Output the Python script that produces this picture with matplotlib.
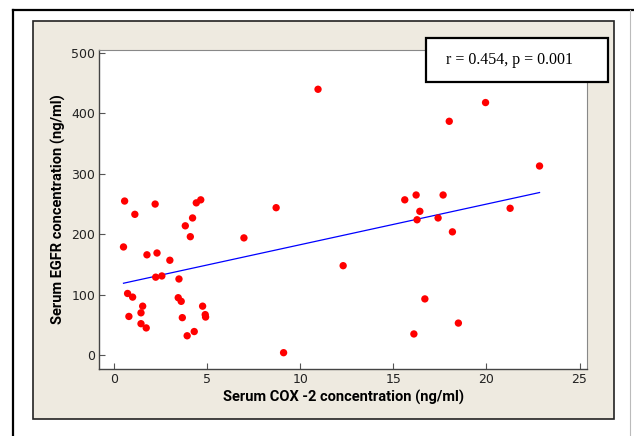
import numpy as np
import matplotlib
matplotlib.use("Agg")
import matplotlib.pyplot as plt
from matplotlib.patches import Rectangle
from matplotlib.lines import Line2D

# serum COX-2 (x) and EGFR (y) for each patient
cox2 = [0.56, 2.20, 1.11, 4.65, 4.41, 4.21, 3.82, 4.09, 0.50, 1.76,
        2.30, 2.99, 2.23, 2.56, 3.48, 0.72, 0.99, 3.44, 3.60, 1.53,
        1.44, 0.79, 4.75, 4.89, 4.91, 3.66, 1.44, 1.72, 3.92, 4.30,
        6.97, 8.70, 9.10, 10.95, 12.30,
        15.61, 16.22, 17.67, 16.42, 16.27, 17.40, 18.17, 21.27, 22.85,
        19.95, 18.00, 16.69, 18.49, 16.10]
egfr = [255, 250, 233, 257, 252, 227, 214, 196, 179, 166,
        169, 157, 129, 131, 126, 102, 96, 95, 89, 81,
        70, 64, 81, 67, 63, 62, 52, 45, 32, 39,
        194, 244, 4, 440, 148,
        257, 265, 265, 238, 224, 227, 204, 243, 313,
        418, 387, 93, 53, 35]

stats_text = "r = 0.454, p = 0.001"
x_ticks = [0, 5, 10, 15, 20, 25]
y_ticks = [0, 100, 200, 300, 400, 500]

label_font = ["Roboto", "DejaVu Sans"]

fig = plt.figure(figsize=(6.34, 4.36), dpi=100)
fig.patch.set_facecolor("white")

# outer frame
fig.add_artist(Line2D([12.7 / 634, 12.7 / 634], [0, 1 - 10 / 436],
                      transform=fig.transFigure, color="black", lw=1.6))
fig.add_artist(Line2D([12.7 / 634, 1], [1 - 10 / 436, 1 - 10 / 436],
                      transform=fig.transFigure, color="black", lw=1.6))
fig.add_artist(Line2D([630 / 634, 630 / 634], [0, 1 - 10 / 436],
                      transform=fig.transFigure, color="#bbbbbb", lw=0.8))

# beige graph panel
panel = Rectangle((33 / 634, 17 / 436), 581 / 634, 398 / 436,
                  transform=fig.transFigure, facecolor="#eeeae0",
                  edgecolor="#222222", lw=1.2, zorder=-5)
fig.add_artist(panel)

ax = fig.add_axes([99.3 / 634, 67 / 436, 487.7 / 634, 319 / 436])
ax.set_facecolor("white")

ax.scatter(cox2, egfr, s=28, color="#ff0000", edgecolors="none", zorder=3)

# least squares fit line over the data range
slope, intercept = np.polyfit(cox2, egfr, 1)
xs = np.array([min(cox2), max(cox2)])
ax.plot(xs, intercept + slope * xs, color="#0000ff", lw=0.9, zorder=2)

ax.set_xlim(-0.8, 25.4)
ax.set_ylim(-23, 505)
ax.set_xticks(x_ticks)
ax.set_yticks(y_ticks)
ax.tick_params(direction="in", length=4, width=0.8, color="#555555",
               labelsize=9, labelcolor="#222222", pad=3,
               top=False, right=False)
for s in ["left", "bottom"]:
    ax.spines[s].set_color("#444444")
    ax.spines[s].set_linewidth(1.0)
for s in ["top", "right"]:
    ax.spines[s].set_color("#888888")
    ax.spines[s].set_linewidth(0.8)

ax.set_xlabel("Serum COX -2 concentration (ng/ml)", family=label_font,
              fontweight="bold", fontsize=10.5, labelpad=3)
ax.set_ylabel("Serum EGFR concentration (ng/ml)", family=label_font,
              fontweight="bold", fontsize=10.5, labelpad=4)

# correlation box
box = Rectangle((426 / 634, 1 - 82 / 436), 182 / 634, 44 / 436,
                transform=fig.transFigure, facecolor="white",
                edgecolor="black", lw=1.6, zorder=10)
fig.add_artist(box)
fig.text(510 / 634, 1 - 60 / 436, stats_text, family="Liberation Serif",
         fontsize=11.5, ha="center", va="center", zorder=11)

fig.savefig("out.png", dpi=100)
